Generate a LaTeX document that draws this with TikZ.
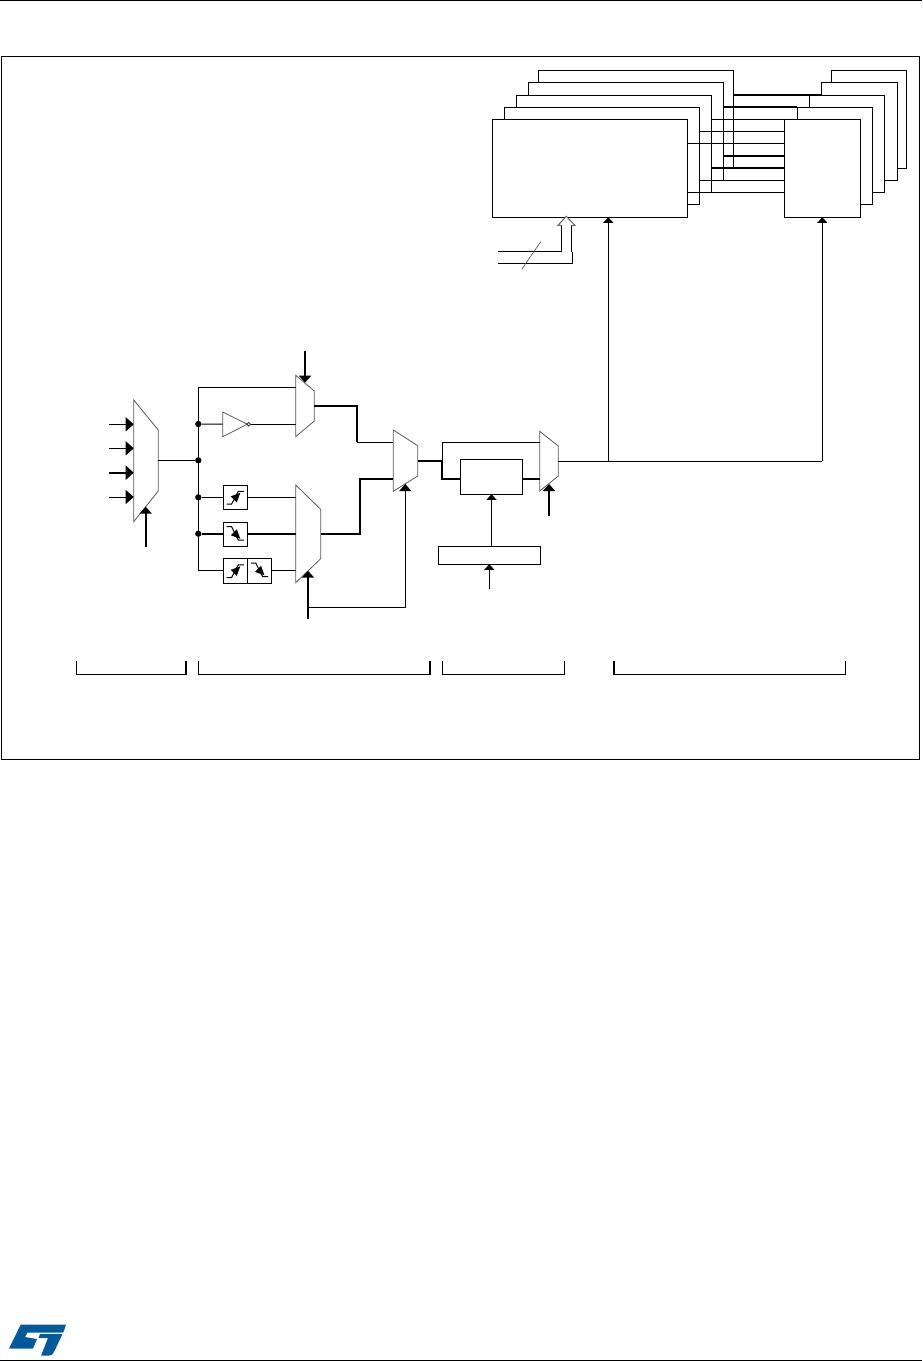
\documentclass[tikz,border=0pt]{standalone}
\usetikzlibrary{arrows.meta}
\definecolor{stblue}{HTML}{03599A}
\tikzset{
  sig/.style={line width=1pt},
  bus/.style={line width=2pt},
  box/.style={draw,fill=white,line width=1pt,inner sep=0pt,outer sep=0pt},
  mux/.style={draw=black!65,fill=white,line width=.8pt},
  dotn/.style={circle,fill=black,inner sep=0pt,minimum size=6.3pt},
  intip/.style={-{Triangle[length=8pt,width=14pt]}},
  seltip/.style={-{Triangle[length=7pt,width=12pt]}},
  smalltip/.style={-{Triangle[length=5.5pt,width=10pt]}},
  riseedge/.pic={
    \draw[line width=1pt] (3.3,18.7) -- (8.3,18.7) -- (15,6) -- (20.7,6);
    \fill (17,7.5) -- (7.5,11) -- (13.5,17) -- cycle;
  },
  falledge/.pic={
    \draw[line width=1pt] (3.3,4.3) -- (8.3,4.3) -- (15,17.7) -- (20.7,17.7);
    \fill (17,16.5) -- (7.5,13) -- (13.5,7) -- cycle;
  }
}
\begin{document}
\begin{tikzpicture}[x=1pt,y=-1pt]
\useasboundingbox (0,0) rectangle (922,1361);
\draw[sig] (0,.5) -- (922,.5);
\draw[sig] (0,1360) -- (922,1360);
\draw[sig] (1.5,56.5) rectangle (919,759.3);

% Stacked channels, rear one first.
\node[box,minimum width=195pt,minimum height=98pt] (chane) at (635.8,119.3) {};
\node[box,minimum width=195pt,minimum height=98pt] (chand) at (625.8,131.3) {};
\node[box,minimum width=195pt,minimum height=97pt] (chanc) at (613.8,143.8) {};
\node[box,minimum width=195pt,minimum height=97pt] (chanb) at (601.8,155.8) {};
\node[box,minimum width=195pt,minimum height=98pt] (chana) at (590,168.3) {};
\node[box,minimum width=75pt,minimum height=98pt] (pine) at (868.8,119.3) {};
\node[box,minimum width=76pt,minimum height=98pt] (pind) at (859.3,131.3) {};
\node[box,minimum width=75pt,minimum height=97pt] (pinc) at (846.8,143.8) {};
\node[box,minimum width=75pt,minimum height=97pt] (pinb) at (834.8,155.8) {};
\node[box,minimum width=76pt,minimum height=98pt] (pina) at (822.3,168.3) {};

\draw[bus] (chane.east |- 0,94.7) -- (pind.west |- 0,94.7);
\draw[bus] (chand.east |- 0,106.7) -- (pinb.west |- 0,106.7);
\draw[sig] (chanc.east |- 0,119.3) -- (pina.west |- 0,119.3);
\draw[sig] (chanb.east |- 0,131.3) -- (pina.west |- 0,131.3);
\draw[sig] (chana.east |- 0,143.3) -- (pina.west |- 0,143.3);
\draw[bus] (chand.east |- 0,156) -- (pina.west |- 0,156);
\draw[bus] (chanc.east |- 0,168) -- (pina.west |- 0,168);
\draw[sig] (chanb.east |- 0,180.3) -- (pina.west |- 0,180.3);
\draw[sig] (chana.east |- 0,192.3) -- (pina.west |- 0,192.3);

% Hollow register bus.
\coordinate (regtop) at (498,251.7);
\coordinate (regbot) at (498,263.3);
\draw[sig] (regtop) -- (561.7,251.7) -- (561.7,225.3);
\draw[sig] (regbot) -- (572.3,263.3) -- (572.3,251.7);
\draw[sig] (571.7,251.7) -- (571.7,225.3);
\draw[line width=1pt,draw=black!60,fill=white] (561.7,225.3) -- (558,225.3) -- (566.3,216.3) -- (575,225.3) -- (571.7,225.3);
\draw[line width=.6pt,black!70] (540.7,241.7) -- (521.7,269.3);

% Input selector.
\draw[mux] (133.7,400) -- (158.3,430) -- (158.3,491) -- (133.7,521.7) -- cycle;
\coordinate (ina) at (109,424.3);
\coordinate (inb) at (109,448.3);
\coordinate (inc) at (109,472.7);
\coordinate (ind) at (109,497);
\coordinate (muxaout) at (158.3,460.3);
\draw[sig,intip] (ina) -- (133.7,424.3);
\draw[sig,intip] (inb) -- (133.7,448.3);
\draw[bus,intip] (inc) -- (133.7,472.7);
\draw[sig,intip] (ind) -- (133.7,497);
\coordinate (selabot) at (145.7,546.7);
\draw[bus,seltip] (selabot) -- (145.7,506.7);

% Polarity and edge selection.
\node[dotn] (joinb) at (198.3,424) {};
\node[dotn] (joinc) at (198.3,460.3) {};
\node[dotn] (joind) at (198.3,497.3) {};
\node[dotn] (joine) at (198.3,533.7) {};
\coordinate (joina) at (198.3,387.3);
\coordinate (joinf) at (198.3,570.3);
\draw[sig] (joina) -- (joinf);
\draw[sig] (muxaout) -- (joinc);
\draw[mux] (295.7,375.3) -- (314.3,391) -- (314.3,421) -- (295.7,436.7) -- cycle;
\draw[mux] (295.7,485) -- (320.7,509.3) -- (320.7,558.7) -- (295.7,582.7) -- cycle;
\draw[sig] (joina) -- (295.7,387.3);
\draw[line width=.8pt,draw=black!65] (222.7,412) -- (247.3,424.2) -- (222.7,436.7) -- cycle;
\draw[sig] (joinb) -- (222.7,424.2);
\draw[sig] (250.3,424.2) -- (295.7,424.2);
\draw[line width=.8pt,draw=black!80,fill=white] (248.8,424.2) circle (1.8);
\node[box,minimum size=24pt] (risebox) at (235.3,497.3) {};
\node[box,minimum size=24pt] (fallbox) at (235.3,534.3) {};
\node[box,minimum width=24.2pt,minimum height=25pt] (bothr) at (235.4,570.8) {};
\node[box,minimum width=24.2pt,minimum height=25pt] (bothf) at (259.6,570.8) {};
\pic at (223.3,485.3) {riseedge};
\pic at (223.3,522.3) {falledge};
\pic at (223.3,558.8) {riseedge};
\pic at (247.5,558.8) {falledge};
\draw[sig] (joind) -- (risebox.west |- joind);
\draw[sig] (risebox.east |- joind) -- (295.7,497.3);
\draw[bus] (joine) -- (fallbox.west |- joine);
\draw[bus] (fallbox.east |- joine) -- (295.7,533.7);
\draw[sig] (joinf) -- (bothr.west |- joinf);
\draw[sig] (bothf.east |- joinf) -- (295.7,570.3);

% Last polarity mux.
\draw[mux] (393.3,430) -- (417.7,445.7) -- (417.7,476) -- (393.3,491.3) -- cycle;
\draw[bus] (314.3,405.7) -- (357,405.7) -- (357,442.3);
\draw[sig] (357,442.3) -- (393.3,442.3);
\draw[bus] (320.7,533.7) -- (360,533.7) -- (360,478.7) -- (393.3,478.7);
\coordinate (seltop) at (305,350.7);
\draw[bus,seltip] (seltop) -- (305,382.7);
\coordinate (selbot) at (308,619.3);
\coordinate (selbra) at (308,607.3);
\draw[bus,seltip] (selbot) -- (308,570.7);
\draw[sig,seltip] (selbra) -- (405.3,607.3) -- (405.3,484);

% Filter and bypass.
\node[box,minimum width=62.4pt,minimum height=35pt] (filt) at (491.5,476.8) {};
\node[box,minimum width=102pt,minimum height=18pt] (psc) at (489.3,555.3) {};
\draw[mux] (539.7,431.3) -- (558.3,446) -- (558.3,476) -- (539.7,491) -- cycle;
\coordinate (split) at (442.3,460.7);
\draw[bus] (417.7,460.7) -- (split);
\draw[sig] (split) -- (442.3,442.3) -- (539.7,442.3);
\draw[bus] (split) -- (442.3,479) -- (filt.west |- 0,479);
\draw[bus] (filt.east |- 0,479) -- (539.7,479);
\draw[sig,smalltip] (filt.south |- psc.north) -- (filt.south);
\coordinate (pscin) at (489.3,589.3);
\draw[sig,smalltip] (pscin) -- (psc.south);
\coordinate (selfilt) at (549,516);
\draw[bus,seltip] (selfilt) -- (549,484);

% Output to channels and pins.
\coordinate (outa) at (558.3,461.3);
\coordinate (outb) at (608.3,461.3);
\coordinate (outc) at (822.3,461.3);
\draw[sig] (outa) -- (outc);
\draw[sig,smalltip] (outb) -- (outb |- chana.south);
\draw[sig,smalltip] (outc) -- (pina.south);

% Section brackets.
\draw[sig] (76.3,661.3) -- (76.3,674.3) -- (186,674.3);
\draw[bus] (186,674.8) -- (186,661.3);
\draw[sig] (198.3,661.3) -- (198.3,674.3) -- (430,674.3);
\draw[bus] (430,674.8) -- (430,661.3);
\draw[sig] (442.3,661.3) -- (442.3,674.3) -- (564.3,674.3) -- (564.3,661.3);
\draw[bus] (613.7,661.3) -- (613.7,674.8);
\draw[sig] (613.7,674.3) -- (845.7,674.3) -- (845.7,661.3);

% Logo.
\fill[stblue] (20.7,1324.7) -- (66,1324.7) -- (63.3,1332.5) -- (27.5,1332.5) -- (25,1337) -- (37,1339)
  -- (33,1348.5) -- (9,1348.5) -- cycle;
\fill[stblue] (40,1334) -- (62.5,1334) -- (54,1352) .. controls (53,1355) and (51,1355.7) .. (48,1355.7)
  -- (41,1355.7) -- (48,1338) -- (38.5,1338) -- cycle;
\end{tikzpicture}
\end{document}
